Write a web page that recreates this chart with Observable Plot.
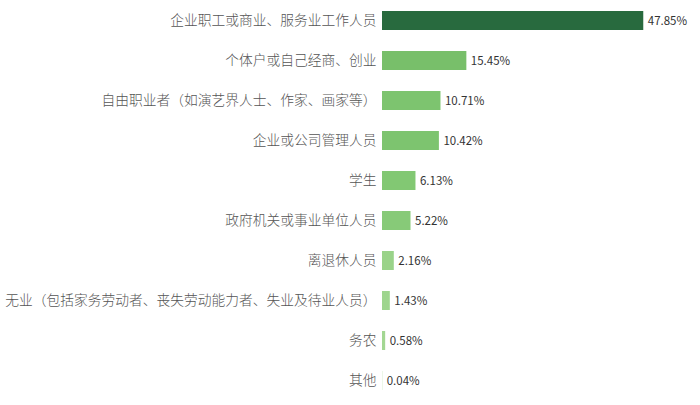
<!DOCTYPE html>
<html>
<head>
<meta charset="utf-8">
<script src="https://cdn.jsdelivr.net/npm/d3@7"></script>
<script src="https://cdn.jsdelivr.net/npm/@observablehq/plot@0.6"></script>
<style>
  html, body { margin: 0; padding: 0; background: #fff; }
  #chart svg { display: block; }
</style>
</head>
<body>
<div id="chart"></div>
<script>
const categories = [
  "企业职工或商业、服务业工作人员",
  "个体户或自己经商、创业",
  "自由职业者（如演艺界人士、作家、画家等）",
  "企业或公司管理人员",
  "学生",
  "政府机关或事业单位人员",
  "离退休人员",
  "无业（包括家务劳动者、丧失劳动能力者、失业及待业人员）",
  "务农",
  "其他"
];
const values = [47.85, 15.45, 10.71, 10.42, 6.13, 5.22, 2.16, 1.43, 0.58, 0.04];

const data = categories.map((c, i) => ({ category: c, value: values[i] }));

const chart = Plot.plot({
  width: 700,
  height: 405,
  marginLeft: 382,
  marginRight: 45,
  marginTop: 0,
  marginBottom: 5,
  style: { fontFamily: "'Noto Sans CJK SC', 'Noto Sans', sans-serif", background: "#fff" },
  x: { domain: [0, 50], axis: null },
  y: { domain: categories, padding: 0.53, paddingOuter: 0.2, label: null, tickSize: 0, tickPadding: 6 },
  color: { type: "linear", domain: [0, 6, 15.45, 47.85], range: ["#a7d996", "#82c873", "#78bf6a", "#286a3e"] },
  marks: [
    Plot.barX(data, { x: "value", y: "category", fill: "value" }),
    Plot.axisY({ tickSize: 0, tickPadding: 6, fontSize: 13.75, fontWeight: 300, fill: "#555", label: null }),
    Plot.text(data, {
      x: "value", y: "category",
      text: d => d.value.toFixed(2) + "%",
      textAnchor: "start", dx: 4, fontSize: 11.5, fill: "#333"
    })
  ]
});
document.getElementById("chart").appendChild(chart);
</script>
</body>
</html>
